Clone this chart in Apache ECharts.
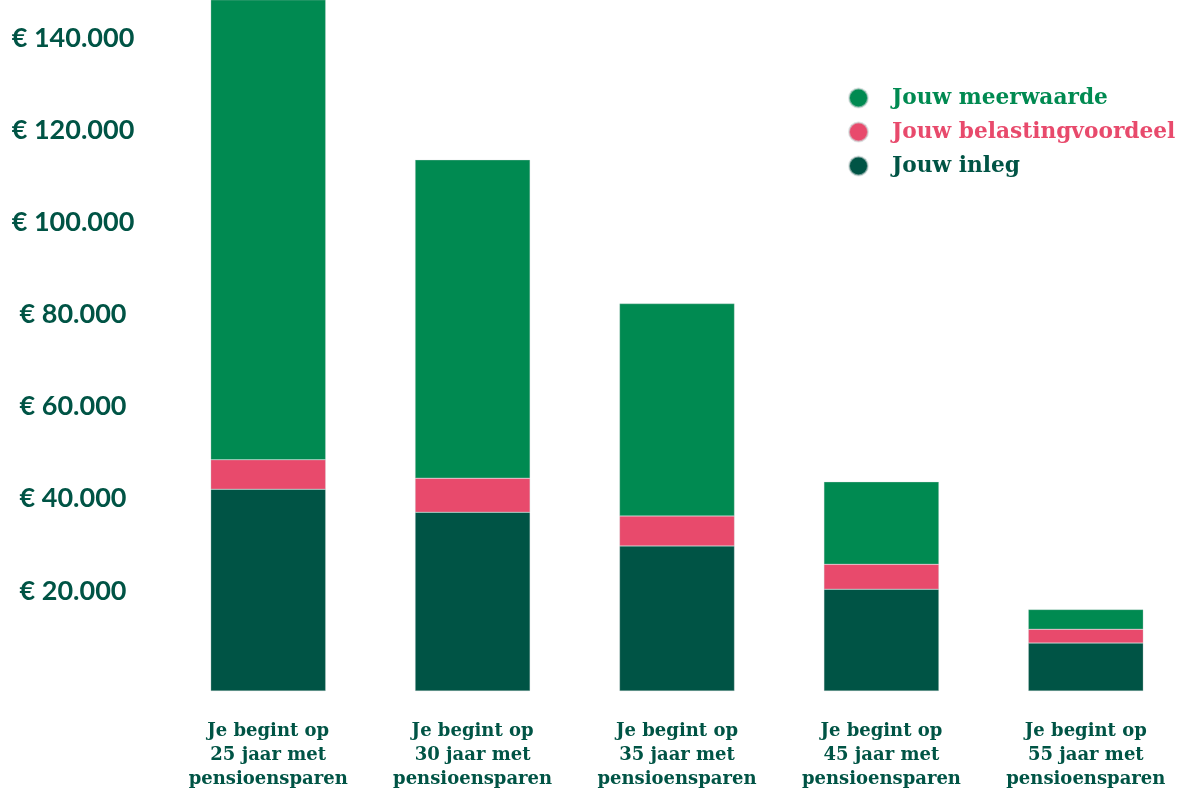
<!DOCTYPE html>
<html>
<head>
<meta charset="utf-8">
<script src="https://cdn.jsdelivr.net/npm/echarts@6/dist/echarts.min.js"></script>
<style>
html,body{margin:0;padding:0;background:#fff;}
#chart{width:1200px;height:794px;}
</style>
</head>
<body>
<div id="chart"></div>
<script>
const categories = [
  'Je begint op\n25 jaar met\npensioensparen',
  'Je begint op\n30 jaar met\npensioensparen',
  'Je begint op\n35 jaar met\npensioensparen',
  'Je begint op\n45 jaar met\npensioensparen',
  'Je begint op\n55 jaar met\npensioensparen'
];
const seriesNames = ['Jouw meerwaarde', 'Jouw belastingvoordeel', 'Jouw inleg'];
const inleg = [43800, 38800, 31500, 22100, 10400];
const belastingvoordeel = [6400, 7400, 6500, 5400, 3000];
const meerwaarde = [105000, 69100, 46100, 17900, 4300];
const yTicks = [20000, 40000, 60000, 80000, 100000, 120000, 140000];

const C_LIGHT = '#008a51';
const C_PINK = '#e84a6c';
const C_DARK = '#005445';
const SERIF = '"DejaVu Serif", serif';

function fmt(v) {
  return '€ ' + String(v).replace(/\B(?=(\d{3})+(?!\d))/g, '.');
}

const chart = echarts.init(document.getElementById('chart'));
chart.setOption({
  animation: false,
  backgroundColor: '#ffffff',
  grid: { left: 166, right: 12, top: 0, bottom: 103, containLabel: false },
  legend: {
    orient: 'vertical',
    left: 843,
    top: 82,
    icon: 'circle',
    itemWidth: 19,
    itemHeight: 19,
    itemGap: 12,
    selectedMode: false,
    textStyle: { fontFamily: SERIF, fontWeight: 'bold', fontSize: 21.7, lineHeight: 22, padding: [0, 0, 0, 19] },
    data: [
      { name: seriesNames[0], textStyle: { color: C_LIGHT } },
      { name: seriesNames[1], textStyle: { color: C_PINK } },
      { name: seriesNames[2], textStyle: { color: C_DARK } }
    ]
  },
  xAxis: {
    type: 'category',
    data: categories,
    axisLine: { show: false },
    axisTick: { show: false },
    axisLabel: {
      interval: 0,
      margin: 28,
      color: C_DARK,
      fontFamily: SERIF,
      fontWeight: 'bold',
      fontSize: 18,
      lineHeight: 24
    }
  },
  yAxis: {
    type: 'value',
    min: 0,
    max: 150000,
    interval: 20000,
    splitLine: { show: false },
    axisLine: { show: false },
    axisTick: { show: false },
    axisLabel: {
      align: 'center',
      margin: 93,
      verticalAlign: 'bottom',
      lineHeight: 16,
      color: C_DARK,
      fontFamily: 'Lato, sans-serif',
      fontWeight: 'bold',
      fontSize: 27,
      formatter: function (v) { return yTicks.indexOf(v) >= 0 ? fmt(v) : ''; }
    }
  },
  series: [
    { name: seriesNames[2], type: 'bar', stack: 't', barWidth: 115, data: inleg,
      itemStyle: { color: C_DARK, borderColor: 'rgba(200,210,210,0.6)', borderWidth: 0.5 } },
    { name: seriesNames[1], type: 'bar', stack: 't', barWidth: 115, data: belastingvoordeel,
      itemStyle: { color: C_PINK, borderColor: 'rgba(200,210,210,0.6)', borderWidth: 0.5 } },
    { name: seriesNames[0], type: 'bar', stack: 't', barWidth: 115, data: meerwaarde,
      itemStyle: { color: C_LIGHT, borderColor: 'rgba(200,210,210,0.6)', borderWidth: 0.5 } }
  ]
});
</script>
</body>
</html>
